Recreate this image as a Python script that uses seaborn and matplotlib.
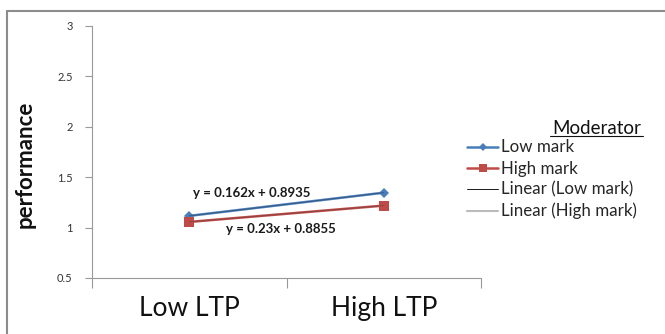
import numpy as np
import pandas as pd
import matplotlib
matplotlib.use("Agg")
import matplotlib.pyplot as plt
from matplotlib.lines import Line2D
import seaborn as sns

# Data
ltp_levels = ["Low LTP", "High LTP"]
low_mark = [1.1155, 1.3455]
high_mark = [1.0555, 1.2175]
moderators = ["Low mark", "High mark"]
eq_texts = ["y = 0.162x + 0.8935", "y = 0.23x + 0.8855"]
y_ticks = [0.5, 1, 1.5, 2, 2.5, 3]
y_tick_labels = ["0.5", "1", "1.5", "2", "2.5", "3"]

df = pd.DataFrame({
    "LTP": ltp_levels * 2,
    "performance": low_mark + high_mark,
    "Moderator": [moderators[0]] * 2 + [moderators[1]] * 2,
})

sns.set_theme(style="white")
plt.rcParams["font.family"] = ["Lato", "DejaVu Sans"]

blue = "#4A7EBB"
red = "#BE4B48"

fig = plt.figure(figsize=(6.65, 3.34), dpi=100)
ax = fig.add_axes([92 / 665, 1 - 278 / 334, (481 - 92) / 665, (278 - 25.7) / 334])

sns.lineplot(
    data=df, x="LTP", y="performance", hue="Moderator", style="Moderator",
    palette={moderators[0]: blue, moderators[1]: red},
    markers={moderators[0]: "D", moderators[1]: "s"},
    dashes=False, linewidth=1.8, markersize=7, markeredgewidth=0,
    sort=False, legend=False, ax=ax,
)
# make the diamond a bit smaller than the square
for line in ax.lines:
    if line.get_marker() == "D":
        line.set_markersize(5.5)
    elif line.get_marker() == "s":
        line.set_markersize(7.5)

# Linear trendlines fitted to each series
xs = np.arange(1, len(ltp_levels) + 1)
pos = np.arange(len(ltp_levels))
for vals, col in [(low_mark, "#1a1a1a"), (high_mark, "#3a3a3a")]:
    slope, icpt = np.polyfit(xs, vals, 1)
    ax.plot(pos, slope * xs + icpt, color=col, linewidth=0.4, alpha=0.6,
            zorder=5)

# Trendline equations
ax.text(0.02, 1.34, eq_texts[0], fontsize=9.5, fontweight="bold",
        color="#1a1a1a", va="center", ha="left")
ax.text(0.19, 0.984, eq_texts[1], fontsize=9.5, fontweight="bold",
        color="#1a1a1a", va="center", ha="left")

# Axes styling
ax.set_xlim(-0.5, 1.5)
ax.set_ylim(0.5, 3)
ax.set_yticks(y_ticks)
ax.set_yticklabels(y_tick_labels, fontsize=8, color="#333333")
ax.set_xticks([-0.5, 0.5, 1.5], minor=False)
ax.set_xticklabels([])
ax.set_xticks(pos, minor=True)
ax.set_xticklabels(ltp_levels, minor=True, fontsize=19, color="#111111")
ax.tick_params(axis="x", which="major", direction="out", length=7,
               width=0.8, color="#999999", bottom=True)
ax.tick_params(axis="x", which="minor", length=0, pad=13, bottom=True)
ax.tick_params(axis="y", direction="out", length=5, width=0.8,
               color="#999999", left=True, pad=9)
ax.set_xlabel("")
ax.set_ylabel("performance", fontsize=16, fontweight="bold",
              color="#111111", labelpad=14)
ax.yaxis.set_label_coords(-0.145, 1 - (164.5 - 25.7) / (278 - 25.7))
for side in ["top", "right"]:
    ax.spines[side].set_visible(False)
for side in ["left", "bottom"]:
    ax.spines[side].set_color("#999999")
    ax.spines[side].set_linewidth(0.8)

# Legend
handles = [
    Line2D([], [], color=blue, linewidth=1.8, marker="D", markersize=4.5,
           markeredgewidth=0),
    Line2D([], [], color=red, linewidth=1.8, marker="s", markersize=6,
           markeredgewidth=0),
    Line2D([], [], color="#1a1a1a", linewidth=0.7),
    Line2D([], [], color="#bbbbbb", linewidth=1.5),
]
labels = moderators + ["Linear (Low mark)", "Linear (High mark)"]
fig.legend(handles, labels, loc="upper left",
           bbox_to_anchor=(467 / 665, 1 - 139.5 / 334), frameon=False,
           fontsize=12.2, handlelength=1.85, handletextpad=0.15,
           labelspacing=0.3, borderpad=0, borderaxespad=0)
fig.text(596.5 / 665, 1 - 128 / 334, "Moderator", fontsize=13.5,
         ha="center", va="center", color="#111111")
fig.add_artist(Line2D([550 / 665, 643 / 665], [1 - 135.5 / 334] * 2,
                      color="#111111", linewidth=0.8))

# Outer chart border (top and left edges)
fig.add_artist(Line2D([6.5 / 665, 1.0], [1 - 10.5 / 334] * 2,
                      color="#8c8c8c", linewidth=1.5))
fig.add_artist(Line2D([6.5 / 665] * 2, [0.0, 1 - 10.5 / 334],
                      color="#8c8c8c", linewidth=1.5))

fig.savefig("out.png", dpi=100)
